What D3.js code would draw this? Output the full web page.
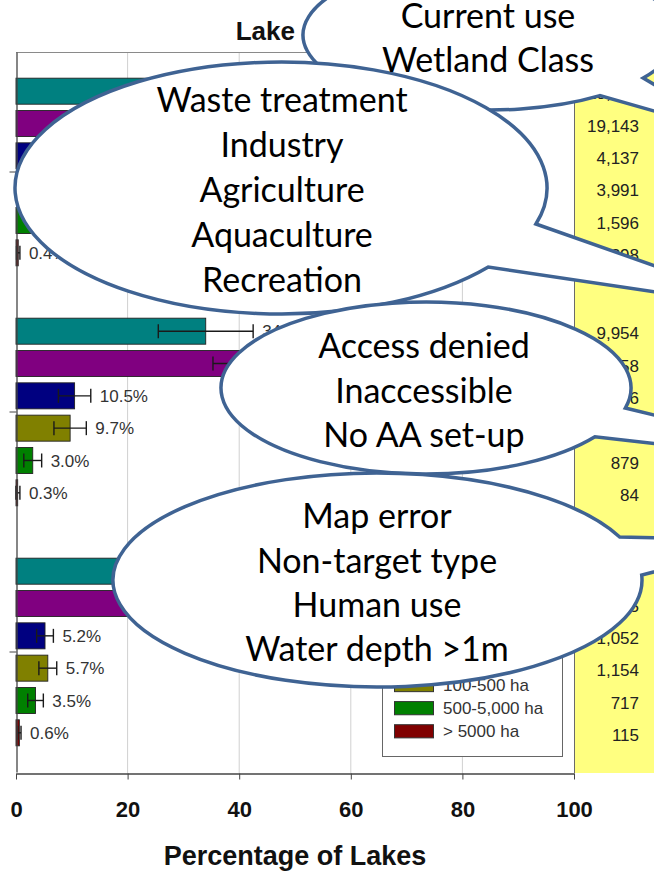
<!DOCTYPE html>
<html>
<head>
<meta charset="utf-8">
<script src="https://cdn.jsdelivr.net/npm/d3@7"></script>
<style>
  body { margin: 0; background: #fff; }
  svg { display: block; }
</style>
</head>
<body>
<div id="vis"></div>
<script>
// ---- data (hidden values are estimates) ----
let groups = ["Group 1", "Group 2", "Group 3"];
let sizeClasses = ["All lakes", "< 10 ha", "10-100 ha", "100-500 ha", "500-5,000 ha", "> 5000 ha"];
let classColors = ["#008080", "#800080", "#000080", "#808000", "#008000", "#800000"];

let pctG1 = [38.0, 42.0, 9.5, 8.8, 4.1, 0.4];
let pctG2 = [34.0, 43.5, 10.5, 9.7, 3.0, 0.3];
let pctG3 = [25.0, 27.0, 5.2, 5.7, 3.5, 0.6];
let errG1 = [5.0, 6.0, 2.0, 2.0, 1.2, 0.3];
let errG2 = [8.5, 8.2, 2.9, 2.9, 1.6, 0.4];
let errG3 = [6.0, 6.5, 1.5, 1.6, 1.4, 0.3];
let countG1 = ["29,165", "19,143", "4,137", "3,991", "1,596", "298"];
let countG2 = ["9,954", "6,458", "1,336", "1,197", "879", "84"];
let countG3 = ["7,363", "4,325", "1,052", "1,154", "717", "115"];

let xTicks = [0, 20, 40, 60, 80, 100];
let chartTitle = "Lake Size";
let xTitle = "Percentage of Lakes";

let bubbleA = ["Current use", "Wetland Class"];
let bubbleB = ["Waste treatment", "Industry", "Agriculture", "Aquaculture", "Recreation"];
let bubbleC = ["Access denied", "Inaccessible", "No AA set-up"];
let bubbleD = ["Map error", "Non-target type", "Human use", "Water depth >1m"];

// ---- layout ----
let width = 654, height = 872;
let plot = {left: 16, right: 574, top: 52, bottom: 773};
let axisFont = "'Liberation Sans', Arial, sans-serif";
let bubbleFont = "Lato, 'Open Sans', sans-serif";

let pct = [pctG1, pctG2, pctG3];
let err = [errG1, errG2, errG3];
let counts = [countG1, countG2, countG3];

let rows = [];
groups.forEach((g, gi) => {
  sizeClasses.forEach((c, ci) => {
    rows.push({group: g, cls: c, color: classColors[ci],
               v: pct[gi][ci], e: err[gi][ci], n: counts[gi][ci]});
  });
});

let svg = d3.select("#vis").append("svg")
        .attr("width", width)
        .attr("height", height);

let x = d3.scaleLinear()
        .domain([0, 100])
        .range([plot.left, plot.right]);

let yGroup = d3.scaleBand()
        .domain(groups)
        .range([plot.top, plot.bottom - 1]);

let yBar = d3.scaleBand()
        .domain(sizeClasses)
        .range([0, yGroup.bandwidth()])
        .paddingInner(0.195)
        .paddingOuter(0.81);

let yc = d => yGroup(d.group) + yBar(d.cls) + yBar.bandwidth() / 2;

// yellow count column
svg.append("rect")
  .attr("x", x(100))
  .attr("y", plot.top)
  .attr("width", width - x(100))
  .attr("height", plot.bottom - plot.top)
  .attr("fill", "#ffff80");

// gridlines
svg.append("g")
  .selectAll("line")
  .data(xTicks.filter(t => t > 0 && t < 100))
  .join("line")
    .attr("x1", d => x(d)).attr("x2", d => x(d))
    .attr("y1", plot.top).attr("y2", plot.bottom)
    .attr("stroke", "#d0d0d0")
    .attr("stroke-width", 1);

// frame top + yellow border
svg.append("line")
  .attr("x1", plot.left).attr("x2", width)
  .attr("y1", plot.top + 0.5).attr("y2", plot.top + 0.5)
  .attr("stroke", "#8a8a8a");
svg.append("line")
  .attr("x1", x(100) + 0.5).attr("x2", x(100) + 0.5)
  .attr("y1", plot.top).attr("y2", plot.bottom)
  .attr("stroke", "#6a6a6a");

// bars
svg.append("g")
  .selectAll("rect")
  .data(rows)
  .join("rect")
    .attr("x", x(0))
    .attr("y", d => yGroup(d.group) + yBar(d.cls))
    .attr("width", d => x(d.v) - x(0))
    .attr("height", yBar.bandwidth())
    .attr("fill", d => d.color)
    .attr("stroke", "#222")
    .attr("stroke-width", 0.9);

// error bars
let eb = svg.append("g")
        .attr("stroke", "#1a1a1a")
        .attr("stroke-width", 1.4);
eb.selectAll(".whisker")
  .data(rows)
  .join("line")
    .attr("class", "whisker")
    .attr("x1", d => x(Math.max(0, d.v - d.e)))
    .attr("x2", d => x(d.v + d.e))
    .attr("y1", yc).attr("y2", yc);
eb.selectAll(".capL")
  .data(rows)
  .join("line")
    .attr("class", "capL")
    .attr("x1", d => x(Math.max(0, d.v - d.e))).attr("x2", d => x(Math.max(0, d.v - d.e)))
    .attr("y1", d => yc(d) - 7).attr("y2", d => yc(d) + 7);
eb.selectAll(".capR")
  .data(rows)
  .join("line")
    .attr("class", "capR")
    .attr("x1", d => x(d.v + d.e)).attr("x2", d => x(d.v + d.e))
    .attr("y1", d => yc(d) - 7).attr("y2", d => yc(d) + 7);

// value labels
svg.append("g")
  .selectAll("text")
  .data(rows)
  .join("text")
    .attr("x", d => x(d.v + d.e) + 9)
    .attr("y", yc)
    .attr("dy", "0.36em")
    .attr("font-family", axisFont)
    .attr("font-size", 17)
    .attr("fill", "#333")
    .text(d => d.v.toFixed(1) + "%");

// counts in the yellow column
svg.append("g")
  .selectAll("text")
  .data(rows)
  .join("text")
    .attr("x", 639)
    .attr("y", d => yc(d) + 2)
    .attr("dy", "0.36em")
    .attr("text-anchor", "end")
    .attr("font-family", axisFont)
    .attr("font-size", 17)
    .attr("fill", "#222")
    .text(d => d.n);

// axes
let xAxis = d3.axisBottom(x)
        .tickValues(xTicks)
        .tickSize(6)
        .tickSizeOuter(0);
svg.append("g")
  .attr("transform", "translate(0," + (plot.bottom + 0.5) + ")")
  .call(xAxis)
  .call(g => g.select(".domain").attr("stroke", "#444").attr("stroke-width", 1.3))
  .call(g => g.selectAll("line").attr("stroke", "#444"))
  .call(g => g.selectAll("text")
      .attr("y", 43).attr("dy", null)
      .attr("font-family", axisFont)
      .attr("font-weight", "bold")
      .attr("font-size", 22)
      .attr("fill", "#111"));

let yAxis = d3.axisLeft(yGroup)
        .tickSize(7)
        .tickSizeOuter(0)
        .tickFormat("");
svg.append("g")
  .attr("transform", "translate(" + (plot.left + 0.5) + ",0)")
  .call(yAxis)
  .call(g => g.select(".domain").attr("stroke", "#444").attr("stroke-width", 1.3))
  .call(g => g.selectAll("line").attr("stroke", "#444"));

// legend
let leg = svg.append("g");
leg.append("rect")
  .attr("x", 382.5).attr("y", 598.5)
  .attr("width", 180).attr("height", 158)
  .attr("fill", "#fff")
  .attr("stroke", "#666");
let legY = d3.scaleBand()
        .domain(sizeClasses)
        .range([604, 742])
        .paddingInner(0.43)
        .paddingOuter(0.2);
leg.selectAll("rect.sw")
  .data(sizeClasses)
  .join("rect")
    .attr("class", "sw")
    .attr("x", 394.5)
    .attr("y", d => legY(d) + 0.5)
    .attr("width", 39)
    .attr("height", legY.bandwidth())
    .attr("fill", (d, i) => classColors[i])
    .attr("stroke", "#333");
leg.selectAll("text")
  .data(sizeClasses)
  .join("text")
    .attr("x", 443)
    .attr("y", d => legY(d) + legY.bandwidth() / 2)
    .attr("dy", "0.36em")
    .attr("font-family", axisFont)
    .attr("font-size", 17)
    .attr("fill", "#333")
    .text(d => d);

// titles
svg.append("text")
  .attr("x", (plot.left + plot.right) / 2)
  .attr("y", 40)
  .attr("text-anchor", "middle")
  .attr("font-family", axisFont)
  .attr("font-weight", "bold")
  .attr("font-size", 26)
  .attr("fill", "#111")
  .text(chartTitle);

svg.append("text")
  .attr("x", (plot.left + plot.right) / 2)
  .attr("y", 865)
  .attr("text-anchor", "middle")
  .attr("font-family", axisFont)
  .attr("font-weight", "bold")
  .attr("font-size", 27)
  .attr("fill", "#111")
  .text(xTitle);

// speech bubbles laid over the chart
let callouts = [
  {cx: 490, cy: 35, rx: 187, ry: 75, t1: 35, t2: 54, tip: [742, 136],
   lines: bubbleA, tx: 488, ty: [28, 72]},
  {cx: 281, cy: 188, rx: 266, ry: 126, t1: 16.6, t2: 38.8, tip: [783, 311],
   lines: bubbleB, tx: 282, ty: [112, 157, 202, 247, 292]},
  {cx: 426, cy: 388, rx: 205, ry: 86, t1: 13.5, t2: 34.5, tip: [880, 469],
   lines: bubbleC, tx: 424, ty: [358, 403, 447]},
  {cx: 377.5, cy: 580, rx: 264.5, ry: 107, t1: -23.7, t2: -2.7, tip: [778, 541],
   lines: bubbleD, tx: 377, ty: [528, 573, 617, 661]}
];

function calloutPath(c) {
  let p = t => [c.cx + c.rx * Math.cos(t * Math.PI / 180),
                c.cy + c.ry * Math.sin(t * Math.PI / 180)];
  let [x1, y1] = p(c.t1), [x2, y2] = p(c.t2);
  return "M" + x2 + "," + y2 +
         " A" + c.rx + "," + c.ry + " 0 1 1 " + x1 + "," + y1 +
         " L" + c.tip[0] + "," + c.tip[1] + " Z";
}

svg.append("g")
  .selectAll("path")
  .data(callouts)
  .join("path")
    .attr("d", calloutPath)
    .attr("fill", "#fff")
    .attr("stroke", "#3f6393")
    .attr("stroke-width", 3.5)
    .attr("stroke-linejoin", "miter");

let bt = svg.append("g");
for (let c of callouts) {
  bt.append("g")
    .selectAll("text")
    .data(c.lines)
    .join("text")
      .attr("x", c.tx)
      .attr("y", (d, i) => c.ty[i])
      .attr("text-anchor", "middle")
      .attr("font-family", bubbleFont)
      .attr("font-size", 34)
      .attr("fill", "#000")
      .text(d => d);
}
</script>
</body>
</html>
